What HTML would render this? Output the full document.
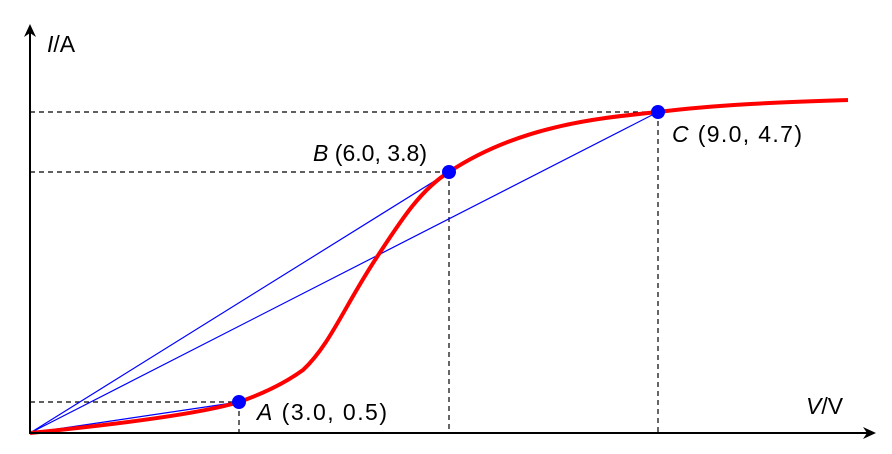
<!DOCTYPE html>
<html><head><meta charset="utf-8"><style>
html,body{margin:0;padding:0;background:#fff;width:892px;height:454px;overflow:hidden}
text{font-family:"Liberation Sans",Arial,sans-serif;font-size:23px;fill:#000}
</style></head><body>
<svg width="892" height="454" viewBox="0 0 892 454" xmlns="http://www.w3.org/2000/svg">
<g stroke="#000" stroke-width="1.2" stroke-dasharray="5,4" fill="none">
<line x1="30" y1="402" x2="239" y2="402"/><line x1="239" y1="402" x2="239" y2="433"/>
<line x1="30" y1="172" x2="449" y2="172"/><line x1="449" y1="172" x2="449" y2="433"/>
<line x1="30" y1="112" x2="658" y2="112"/><line x1="658" y1="112" x2="658" y2="433"/>
</g>
<g stroke="#0000ff" stroke-width="1.2">
<line x1="30" y1="433" x2="239" y2="402"/>
<line x1="30" y1="433" x2="449" y2="172"/>
<line x1="30" y1="433" x2="658" y2="112"/>
</g>
<path d="M30,433 C110,425 200,414 239,402 C265,393 285,383 303,370 C330,345 345,305 377,257 C400,222 420,190 449,172 C520,125 600,118 658,112 C720,104 790,102 848,100" stroke="#ff0000" stroke-width="4" fill="none"/>
<line x1="30" y1="434" x2="30" y2="28" stroke="#000" stroke-width="2"/>
<path d="M30,24 L24,37 L30,33 L36,37 Z" fill="#000"/>
<line x1="29" y1="433" x2="870" y2="433" stroke="#000" stroke-width="2"/>
<path d="M876,433 L863,427 L867,433 L863,439 Z" fill="#000"/>
<circle cx="239" cy="402" r="7" fill="#0000ff"/>
<circle cx="449" cy="172" r="7" fill="#0000ff"/>
<circle cx="658" cy="112" r="7" fill="#0000ff"/>
<text x="47" y="52"><tspan font-style="italic">I</tspan>/A</text>
<text x="806" y="414"><tspan font-style="italic">V</tspan>/V</text>
<text x="257" y="420" textLength="130"><tspan font-style="italic">A</tspan> (3.0, 0.5)</text>
<text x="313" y="161" textLength="114"><tspan font-style="italic">B</tspan> (6.0, 3.8)</text>
<text x="672" y="142" textLength="130"><tspan font-style="italic">C</tspan> (9.0, 4.7)</text>
</svg>
</body></html>
